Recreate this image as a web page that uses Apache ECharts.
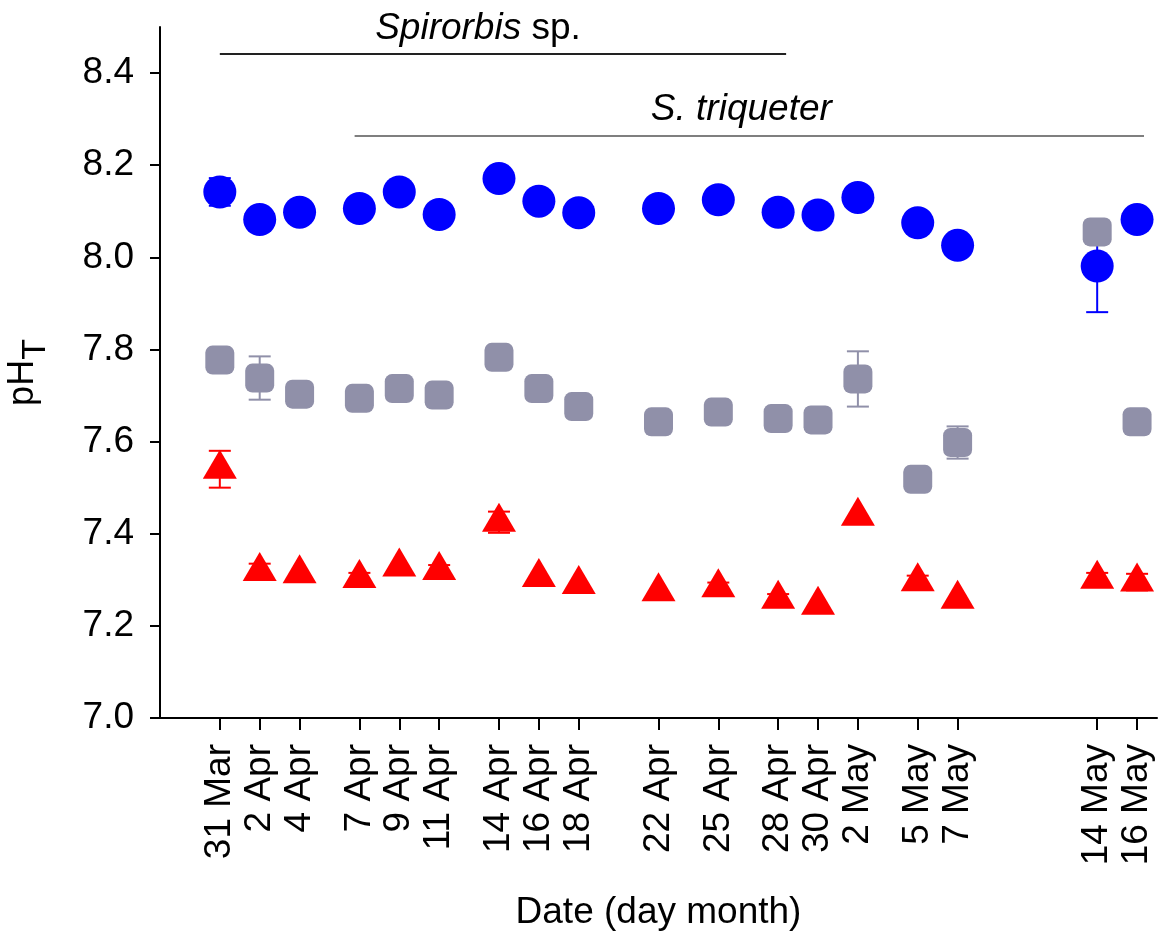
<!DOCTYPE html>
<html><head><meta charset="utf-8">
<script src="https://cdn.jsdelivr.net/npm/echarts@6/dist/echarts.min.js"></script>
<style>html,body{margin:0;padding:0;background:#fff}#c{width:1161px;height:936px}</style>
</head><body><div id="c"></div>
<script>
// ---- data ----
const dateLabels = ['31 Mar','2 Apr','4 Apr','7 Apr','9 Apr','11 Apr','14 Apr','16 Apr','18 Apr','22 Apr','25 Apr','28 Apr','30 Apr','2 May','5 May','7 May','14 May','16 May'];
const dayOffsets = [0,2,4,7,9,11,14,16,18,22,25,28,30,32,35,37,44,46]; // days since 31 Mar
const phBlue    = [8.142,8.082,8.098,8.106,8.142,8.093,8.171,8.122,8.097,8.106,8.125,8.098,8.092,8.130,8.075,8.026,7.981,8.082];
const phBlueErr = [0.03,0,0,0,0,0,0,0,0,0,0,0,0,0,0,0,0.10,0];
const phGray    = [7.777,7.738,7.703,7.694,7.715,7.701,7.783,7.715,7.676,7.643,7.664,7.650,7.647,7.736,7.518,7.598,8.055,7.643];
const phGrayErr = [0,0.047,0,0,0,0,0,0,0,0,0,0,0,0.06,0,0.035,0,0];
const phRed     = [7.540,7.318,7.313,7.303,7.328,7.320,7.425,7.305,7.290,7.274,7.283,7.258,7.245,7.438,7.296,7.258,7.301,7.295];
const phRedErr  = [0.04,0.017,0,0.012,0,0.012,0.023,0,0,0,0.011,0.011,0,0,0.013,0,0.014,0.018];
const yTicks = [7.0,7.2,7.4,7.6,7.8,8.0,8.2,8.4];
// species exposure periods: [start day, end day, level]
const spanSpirorbis = [0, 28.4, 8.443];
const spanTriqueter = [6.76, 46.35, 8.264];

// ---- chart ----
const FONT = 'Liberation Sans, Arial, sans-serif';
const BLUE = '#0000ff', GRAY = '#9090a9', RED = '#ff0000';
const pts = v => dayOffsets.map((d,i)=>[d,v[i]]);
const errs = (v,e) => dayOffsets.map((d,i)=>[d,v[i]-e[i],v[i]+e[i]]).filter((r,i)=>e[i]>0);

function errSeries(v,e,color){
  return {
    type:'custom', z:1, silent:true,
    data: errs(v,e),
    renderItem:(params,api)=>{
      const x=api.value(0);
      const lo=api.coord([x,api.value(1)]), hi=api.coord([x,api.value(2)]);
      const w=11;
      const st={stroke:color,lineWidth:2};
      return {type:'group',children:[
        {type:'line',shape:{x1:lo[0],y1:lo[1],x2:hi[0],y2:hi[1]},style:st},
        {type:'line',shape:{x1:lo[0]-w,y1:lo[1],x2:lo[0]+w,y2:lo[1]},style:st},
        {type:'line',shape:{x1:hi[0]-w,y1:hi[1],x2:hi[0]+w,y2:hi[1]},style:st}
      ]};
    }
  };
}

const chart = echarts.init(document.getElementById('c'));
chart.setOption({
  animation:false,
  backgroundColor:'#fff',
  textStyle:{fontFamily:FONT,color:'#000'},
  grid:{left:160,right:4,top:27,bottom:218,containLabel:false,outerBoundsMode:'none'},
  xAxis:{
    type:'value', min:-3, max:47,
    splitLine:{show:false},
    axisLine:{show:true,onZero:false,lineStyle:{color:'#000',width:2}},
    axisTick:{show:true,length:12,lineStyle:{color:'#000',width:2},customValues:dayOffsets},
    axisLabel:{rotate:90,margin:26,fontSize:37,color:'#000',fontFamily:FONT,
      customValues:dayOffsets,
      formatter:v=>{const i=dayOffsets.indexOf(v);return i>=0?dateLabels[i]:'';}},
    name:'Date (day month)', nameLocation:'middle', nameGap:176,
    nameTextStyle:{fontSize:37,color:'#000',fontFamily:FONT}
  },
  yAxis:{
    type:'value', min:7.0, max:8.5,
    splitLine:{show:false},
    axisLine:{show:true,onZero:false,lineStyle:{color:'#000',width:2}},
    axisTick:{show:true,length:10,lineStyle:{color:'#000',width:2},customValues:yTicks},
    axisLabel:{margin:26,fontSize:37,color:'#000',fontFamily:FONT,customValues:yTicks,
      formatter:v=>v.toFixed(1)},
    name:'{a|pH}{b|T}', nameLocation:'middle', nameGap:107, nameRotate:90,
    nameTextStyle:{fontFamily:FONT,color:'#000',
      rich:{a:{fontSize:36,lineHeight:60,fontFamily:FONT,color:'#000'},
            b:{fontSize:34,lineHeight:36,verticalAlign:'bottom',fontFamily:FONT,color:'#000'}}}
  },
  series:[
    errSeries(phRed,phRedErr,RED),
    errSeries(phGray,phGrayErr,GRAY),
    errSeries(phBlue,phBlueErr,BLUE),
    {type:'scatter',z:2,data:pts(phRed),symbol:'triangle',symbolSize:[34,29],symbolOffset:[0,-5],
      itemStyle:{color:RED,opacity:1}},
    {type:'scatter',z:2,data:pts(phGray),symbol:'roundRect',symbolSize:29,
      itemStyle:{color:GRAY,opacity:1}},
    {type:'scatter',z:2,data:pts(phBlue),symbol:'circle',symbolSize:33,
      itemStyle:{color:BLUE,opacity:1},
      markLine:{
        silent:true,symbol:['none','none'],animation:false,
        data:[
          [{coord:[spanSpirorbis[0],spanSpirorbis[2]],lineStyle:{color:'#222',width:2,type:'solid'},
            label:{show:true,position:'middle',distance:6,formatter:'{i|Spirorbis}{n| sp.}',padding:[0,50,0,0],
              rich:{i:{fontStyle:'italic',fontSize:37,fontFamily:FONT,color:'#000'},n:{fontSize:37,fontFamily:FONT,color:'#000'}}}},
           {coord:[spanSpirorbis[1],spanSpirorbis[2]]}],
          [{coord:[spanTriqueter[0],spanTriqueter[2]],lineStyle:{color:'#555',width:1.6,type:'solid'},
            label:{show:true,position:'middle',distance:8,formatter:'{i|S. triqueter}',padding:[0,16,0,0],
              rich:{i:{fontStyle:'italic',fontSize:37,fontFamily:FONT,color:'#000'}}}},
           {coord:[spanTriqueter[1],spanTriqueter[2]]}]
        ]
      }}
  ]
});
</script></body></html>
